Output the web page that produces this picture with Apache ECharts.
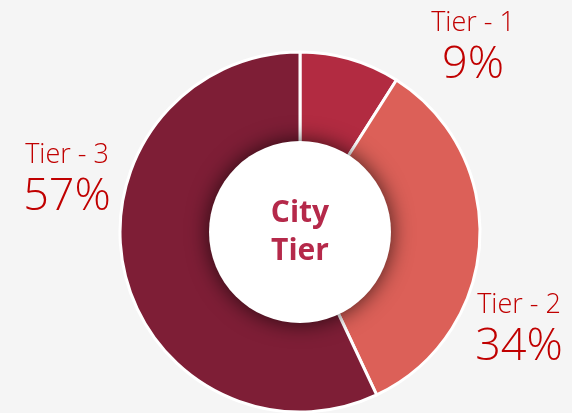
<!DOCTYPE html>
<html>
<head>
<meta charset="utf-8">
<script src="https://cdn.jsdelivr.net/npm/echarts@6/dist/echarts.min.js"></script>
<style>
    html, body { margin: 0; padding: 0; background: #f5f5f5; }
    #chart { width: 572px; height: 413px; }
</style>
</head>
<body>
<div id="chart"></div>
<script>
    // data
    var tiers = ['Tier - 1', 'Tier - 2', 'Tier - 3'];
    var shares = [9, 34, 57];
    var colors = ['#b22b41', '#dc6058', '#7e1e36'];

    // where each label block sits (centre of block)
    var labelPos = [[473, 48], [519, 330], [67, 180]];

    var chart = echarts.init(document.getElementById('chart'));

    var pieData = tiers.map(function (name, i) {
        return { name: name, value: shares[i], itemStyle: { color: colors[i] } };
    });

    chart.setOption({
        backgroundColor: '#f5f5f5',
        animation: false,
        series: [
            {
                type: 'pie',
                center: [300, 232],
                radius: [50, 180],
                startAngle: 90,
                clockwise: true,
                data: pieData,
                itemStyle: { borderColor: '#ffffff', borderWidth: 3 },
                labelLine: { show: false },
                label: {
                    show: true,
                    position: 'outside',
                    overflow: 'none',
                    edgeDistance: 0,
                    formatter: function (p) {
                        return '{a|' + p.name + '}\n{b|' + p.value + '%}';
                    },
                    rich: {
                        a: { fontFamily: 'Open Sans', fontWeight: 300, fontSize: 27, lineHeight: 34, color: '#c00000', align: 'center' },
                        b: { fontFamily: 'Open Sans', fontWeight: 300, fontSize: 45, lineHeight: 50, color: '#c00000', align: 'center' }
                    }
                },
                labelLayout: function (params) {
                    var pos = labelPos[params.dataIndex];
                    return { x: pos[0], y: pos[1], align: 'center', verticalAlign: 'middle' };
                },
                emphasis: { disabled: true }
            },
            {
                type: 'pie',
                center: [300, 232],
                radius: [0, 91],
                silent: true,
                data: [{ name: 'City\nTier', value: 1 }],
                itemStyle: {
                    color: '#ffffff',
                    shadowBlur: 22,
                    shadowColor: 'rgba(0,0,0,0.7)'
                },
                label: {
                    show: true,
                    position: 'center',
                    formatter: 'City\nTier',
                    fontFamily: 'Open Sans',
                    fontWeight: 'bold',
                    fontSize: 30,
                    lineHeight: 38,
                    color: '#b5294a'
                },
                labelLine: { show: false }
            }
        ]
    });
</script>
</body>
</html>
